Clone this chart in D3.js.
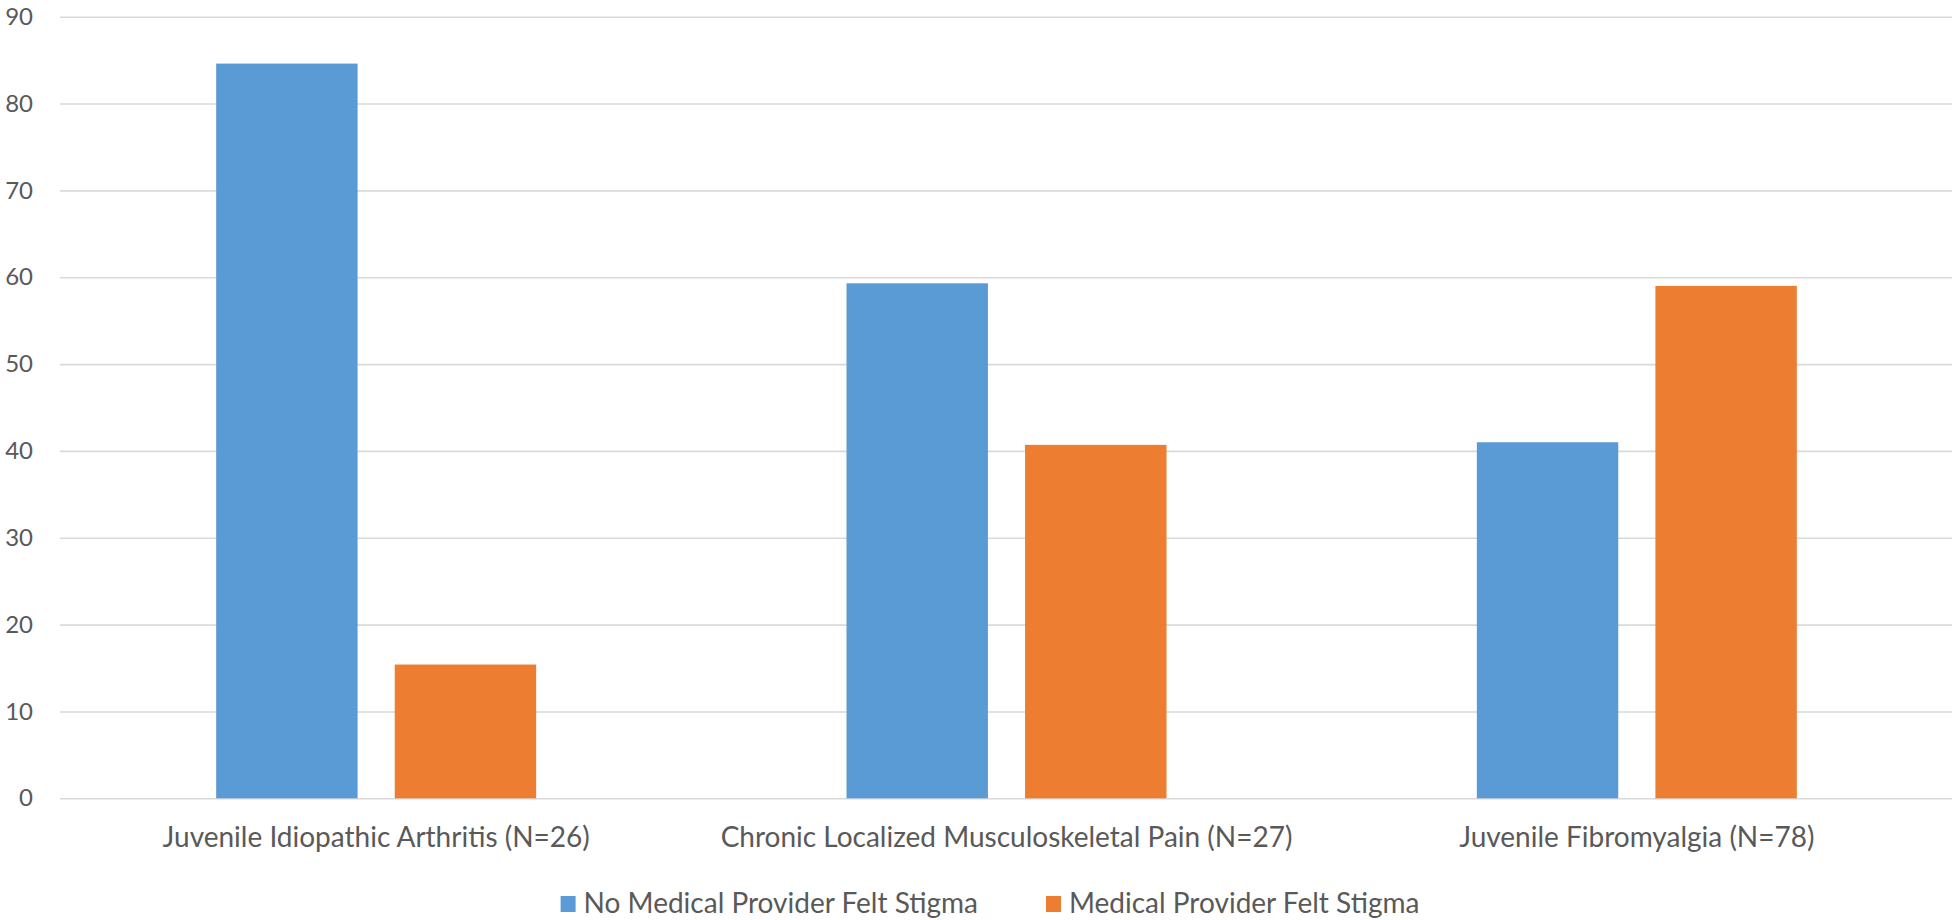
<!DOCTYPE html>
<html>
<head>
<meta charset="utf-8">
<script src="https://cdn.jsdelivr.net/npm/d3@7"></script>
<style>
  html, body { margin: 0; padding: 0; background: #ffffff; }
  svg { display: block; }
  text { font-family: Lato, "Open Sans", sans-serif; fill: #595959; }
</style>
</head>
<body>
<svg id="chart" width="1954" height="920"></svg>
<script>
// Share of patients (%) by diagnosis and perceived stigma from medical providers
const categories = [
  "Juvenile Idiopathic Arthritis (N=26)",
  "Chronic Localized Musculoskeletal Pain (N=27)",
  "Juvenile Fibromyalgia (N=78)"
];
const seriesNames = ["No Medical Provider Felt Stigma", "Medical Provider Felt Stigma"];
const noStigma = [84.6, 59.3, 41.0];
const stigma = [15.4, 40.7, 59.0];
const yTicks = [0, 10, 20, 30, 40, 50, 60, 70, 80, 90];
const colors = ["#5B9BD5", "#ED7D31"];

const svg = d3.select("#chart");
const plot = { left: 61, right: 1952, top: 16.7, bottom: 798.3 };

const y = d3.scaleLinear().domain([0, 90]).range([plot.bottom, plot.top]);
const x0 = d3.scaleBand().domain(categories).range([plot.left, plot.right]).padding(0);
const groupHalf = 160;
const x1 = d3.scaleBand().domain(seriesNames).range([-groupHalf, groupHalf]).paddingInner(0.208).paddingOuter(0);

// Horizontal gridlines with value labels
const yAxis = d3.axisLeft(y).tickValues(yTicks).tickSize(-(plot.right - 60)).tickPadding(0);
const yg = svg.append("g").attr("transform", `translate(60,0)`).call(yAxis);
yg.select(".domain").remove();
yg.selectAll(".tick line").attr("stroke", "#d9d9d9").attr("stroke-width", 1.6);
yg.selectAll(".tick text")
  .attr("x", -27)
  .attr("dy", "0.32em")
  .attr("text-anchor", "end")
  .style("font-size", "24px")
  .style("font-family", "Lato, 'Open Sans', sans-serif")
  .attr("fill", "#595959");

// Bars
const rows = categories.map((c, i) => ({ cat: c, values: [noStigma[i], stigma[i]] }));
const groups = svg.append("g").selectAll("g.group")
  .data(rows).join("g")
  .attr("class", "group")
  .attr("transform", d => `translate(${x0(d.cat) + x0.bandwidth() / 2},0)`);

groups.selectAll("rect")
  .data(d => d.values.map((v, j) => ({ name: seriesNames[j], v, j })))
  .join("rect")
  .attr("x", d => x1(d.name))
  .attr("width", x1.bandwidth())
  .attr("y", d => y(d.v))
  .attr("height", d => y(0) - y(d.v))
  .attr("fill", d => colors[d.j]);

// Category labels under the baseline
const xAxis = d3.axisBottom(x0).tickSize(0).tickPadding(0);
const xg = svg.append("g").attr("transform", `translate(0,${plot.bottom})`).call(xAxis);
xg.select(".domain").remove();
xg.selectAll(".tick text")
  .attr("y", 49)
  .attr("dy", 0)
  .style("font-size", "28px")
  .style("font-family", "Lato, 'Open Sans', sans-serif")
  .attr("fill", "#595959");

// Legend, centred under the plot
const legend = svg.append("g");
const items = legend.selectAll("g").data(seriesNames).join("g");
items.append("rect")
  .attr("width", 15).attr("height", 16)
  .attr("y", -17)
  .attr("fill", (d, i) => colors[i]);
items.append("text")
  .attr("x", 23)
  .style("font-size", "28px")
  .text(d => d);
let offset = 0;
items.each(function () {
  const g = d3.select(this);
  g.attr("transform", `translate(${offset},0)`);
  offset += 23 + g.select("text").node().getComputedTextLength() + 68;
});
const legendWidth = offset - 68;
legend.attr("transform", `translate(${990 - legendWidth / 2},913)`);
</script>
</body>
</html>
